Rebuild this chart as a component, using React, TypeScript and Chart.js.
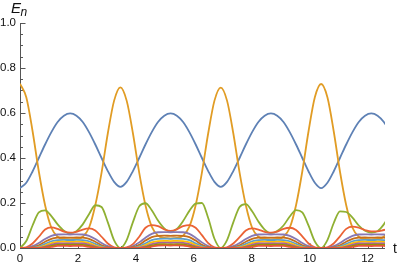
import React, { useEffect, useRef } from 'react';
import { Chart, registerables } from 'chart.js';

Chart.register(...registerables);

// time samples
const tValues = [
  0, 0.217, 0.433, 0.650, 0.866, 1.083, 1.299, 1.516, 1.733, 1.949,
  2.166, 2.382, 2.599, 2.816, 3.032, 3.249, 3.465, 3.682, 3.898, 4.115,
  4.331, 4.548, 4.764, 4.981, 5.198, 5.414, 5.631, 5.847, 6.064, 6.280,
  6.497, 6.713, 6.930, 7.147, 7.363, 7.580, 7.796, 8.013, 8.229, 8.446,
  8.662, 8.879, 9.096, 9.312, 9.529, 9.745, 9.962, 10.178, 10.395, 10.612,
  10.828, 11.045, 11.261, 11.478, 11.694, 11.911, 12.127, 12.344, 12.560, 12.777,
];

const e0 = [
  0.266, 0.29, 0.34, 0.40, 0.46, 0.515, 0.56, 0.588, 0.598, 0.588,
  0.56, 0.515, 0.46, 0.40, 0.342, 0.294, 0.272, 0.294, 0.342, 0.40,
  0.46, 0.515, 0.56, 0.588, 0.598, 0.588, 0.56, 0.515, 0.46, 0.40,
  0.342, 0.294, 0.272, 0.294, 0.342, 0.40, 0.46, 0.515, 0.56, 0.588,
  0.598, 0.588, 0.56, 0.515, 0.46, 0.40, 0.34, 0.29, 0.266, 0.29,
  0.34, 0.40, 0.46, 0.515, 0.56, 0.588, 0.598, 0.588, 0.56, 0.515,
];
const e1 = [
  0.73, 0.67, 0.52, 0.34, 0.19, 0.09, 0.05, 0.04, 0.038, 0.04,
  0.05, 0.09, 0.19, 0.335, 0.51, 0.655, 0.714, 0.655, 0.51, 0.335,
  0.19, 0.095, 0.055, 0.045, 0.043, 0.045, 0.055, 0.095, 0.19, 0.335,
  0.51, 0.655, 0.713, 0.655, 0.51, 0.335, 0.19, 0.09, 0.05, 0.04,
  0.038, 0.04, 0.05, 0.09, 0.19, 0.34, 0.52, 0.67, 0.729, 0.67,
  0.52, 0.34, 0.19, 0.09, 0.05, 0.04, 0.038, 0.04, 0.05, 0.09,
];
const e2 = [
  0, 0.031, 0.10, 0.158, 0.167, 0.142, 0.105, 0.077, 0.065, 0.075,
  0.105, 0.15, 0.19, 0.182, 0.114, 0.034, 0, 0.035, 0.115, 0.185,
  0.199, 0.168, 0.122, 0.087, 0.072, 0.085, 0.12, 0.165, 0.197, 0.2,
  0.133, 0.041, 0, 0.035, 0.114, 0.182, 0.195, 0.163, 0.118, 0.082,
  0.066, 0.075, 0.1, 0.14, 0.168, 0.158, 0.099, 0.029, 0, 0.035,
  0.11, 0.163, 0.16, 0.135, 0.1, 0.077, 0.068, 0.075, 0.105, 0.15,
];
const e3 = [
  0, 0.003, 0.02, 0.05, 0.082, 0.092, 0.085, 0.073, 0.068, 0.072,
  0.082, 0.087, 0.078, 0.05, 0.02, 0.003, 0, 0.003, 0.017, 0.05,
  0.09, 0.102, 0.097, 0.083, 0.076, 0.083, 0.097, 0.102, 0.09, 0.057,
  0.022, 0.003, 0, 0.003, 0.02, 0.048, 0.078, 0.087, 0.082, 0.072,
  0.068, 0.073, 0.085, 0.09, 0.08, 0.052, 0.02, 0.003, 0, 0.003,
  0.02, 0.052, 0.085, 0.095, 0.09, 0.08, 0.074, 0.074, 0.08, 0.085,
];
const e4 = [
  0, 0.001, 0.008, 0.022, 0.04, 0.054, 0.06, 0.061, 0.06, 0.061,
  0.06, 0.054, 0.04, 0.022, 0.008, 0.001, 0, 0.001, 0.009, 0.025,
  0.046, 0.063, 0.07, 0.071, 0.07, 0.071, 0.07, 0.063, 0.046, 0.025,
  0.009, 0.001, 0, 0.001, 0.008, 0.022, 0.04, 0.054, 0.06, 0.061,
  0.06, 0.061, 0.06, 0.054, 0.04, 0.022, 0.008, 0.001, 0, 0.001,
  0.008, 0.022, 0.04, 0.054, 0.06, 0.061, 0.06, 0.061, 0.06, 0.054,
];
const e5 = [
  0, 0, 0.003, 0.012, 0.028, 0.041, 0.046, 0.047, 0.046, 0.047,
  0.046, 0.041, 0.028, 0.012, 0.003, 0, 0, 0, 0.004, 0.014,
  0.033, 0.048, 0.054, 0.055, 0.054, 0.055, 0.054, 0.048, 0.033, 0.014,
  0.004, 0, 0, 0, 0.003, 0.012, 0.028, 0.041, 0.046, 0.047,
  0.046, 0.047, 0.046, 0.041, 0.028, 0.012, 0.003, 0, 0, 0,
  0.003, 0.012, 0.028, 0.041, 0.046, 0.047, 0.046, 0.047, 0.046, 0.041,
];
const e6 = [
  0, 0, 0.001, 0.006, 0.018, 0.03, 0.035, 0.036, 0.035, 0.036,
  0.035, 0.03, 0.018, 0.006, 0.001, 0, 0, 0, 0.001, 0.007,
  0.021, 0.035, 0.041, 0.042, 0.041, 0.042, 0.041, 0.035, 0.021, 0.007,
  0.001, 0, 0, 0, 0.001, 0.006, 0.018, 0.03, 0.035, 0.036,
  0.035, 0.036, 0.035, 0.03, 0.018, 0.006, 0.001, 0, 0, 0,
  0.001, 0.006, 0.018, 0.03, 0.035, 0.036, 0.035, 0.036, 0.035, 0.03,
];
const e7 = [
  0, 0, 0, 0.003, 0.011, 0.022, 0.027, 0.028, 0.027, 0.028,
  0.027, 0.022, 0.011, 0.003, 0, 0, 0, 0, 0, 0.003,
  0.013, 0.025, 0.031, 0.032, 0.031, 0.032, 0.031, 0.025, 0.013, 0.003,
  0, 0, 0, 0, 0, 0.003, 0.011, 0.022, 0.027, 0.028,
  0.027, 0.028, 0.027, 0.022, 0.011, 0.003, 0, 0, 0, 0,
  0, 0.003, 0.011, 0.022, 0.027, 0.028, 0.027, 0.028, 0.027, 0.022,
];
const e8 = [
  0, 0, 0, 0.001, 0.006, 0.015, 0.02, 0.021, 0.02, 0.021,
  0.02, 0.015, 0.006, 0.001, 0, 0, 0, 0, 0, 0.001,
  0.007, 0.017, 0.023, 0.024, 0.023, 0.024, 0.023, 0.017, 0.007, 0.001,
  0, 0, 0, 0, 0, 0.001, 0.006, 0.015, 0.02, 0.021,
  0.02, 0.021, 0.02, 0.015, 0.006, 0.001, 0, 0, 0, 0,
  0, 0.001, 0.006, 0.015, 0.02, 0.021, 0.02, 0.021, 0.02, 0.015,
];
const e9 = [
  0, 0, 0, 0, 0.003, 0.009, 0.014, 0.015, 0.014, 0.015,
  0.014, 0.009, 0.003, 0, 0, 0, 0, 0, 0, 0,
  0.003, 0.011, 0.016, 0.017, 0.016, 0.017, 0.016, 0.011, 0.003, 0,
  0, 0, 0, 0, 0, 0, 0.003, 0.009, 0.014, 0.015,
  0.014, 0.015, 0.014, 0.009, 0.003, 0, 0, 0, 0, 0,
  0, 0, 0.003, 0.009, 0.014, 0.015, 0.014, 0.015, 0.014, 0.009,
];
const e10 = [
  0, 0, 0, 0, 0.001, 0.005, 0.009, 0.01, 0.009, 0.01,
  0.009, 0.005, 0.001, 0, 0, 0, 0, 0, 0, 0,
  0.001, 0.006, 0.011, 0.012, 0.011, 0.012, 0.011, 0.006, 0.001, 0,
  0, 0, 0, 0, 0, 0, 0.001, 0.005, 0.009, 0.01,
  0.009, 0.01, 0.009, 0.005, 0.001, 0, 0, 0, 0, 0,
  0, 0, 0.001, 0.005, 0.009, 0.01, 0.009, 0.01, 0.009, 0.005,
];

const seriesNames = ['E0', 'E1', 'E2', 'E3', 'E4', 'E5', 'E6', 'E7', 'E8', 'E9', 'E10'];
const seriesColors = [
  '#5E81B5', '#E19C24', '#8FB032', '#EB6235', '#8778B3', '#C56E1A',
  '#5D9EC7', '#FFBF00', '#A5609D', '#929600', '#E95536',
];

const xTicks = [0, 2, 4, 6, 8, 10, 12];
const xTickLabels = ['0', '2', '4', '6', '8', '10', '12'];
const yTicks = [0, 0.2, 0.4, 0.6, 0.8, 1.0];
const yTickLabels = ['0.0', '0.2', '0.4', '0.6', '0.8', '1.0'];
const xMinorStep = 0.5;
const yMinorStep = 0.05;
const X_MAX = 12.6;

const axisColor = '#555555';
const textColor = '#111111';
const fontFamily = '"Liberation Sans", Arial, sans-serif';

const axisDecor = {
  id: 'axisDecor',
  beforeDatasetsDraw(chart: any) {
    const { ctx, chartArea, scales } = chart;
    const xs = scales.x;
    const ys = scales.y;
    const x0 = Math.round(xs.getPixelForValue(0)) + 0.5;
    const y0 = Math.round(ys.getPixelForValue(0)) + 0.5;
    ctx.save();
    ctx.strokeStyle = axisColor;
    ctx.lineWidth = 1;
    ctx.beginPath();
    ctx.moveTo(chartArea.left, y0);
    ctx.lineTo(chartArea.right, y0);
    ctx.moveTo(x0, ys.getPixelForValue(1));
    ctx.lineTo(x0, y0);
    // x ticks (inward, upward)
    for (let v = 0; v <= X_MAX + 1e-9; v += xMinorStep) {
      const major = xTicks.some((t) => Math.abs(t - v) < 1e-6);
      const px = Math.round(xs.getPixelForValue(v)) + 0.5;
      ctx.moveTo(px, y0);
      ctx.lineTo(px, y0 - (major ? 5 : 2.5));
    }
    // y ticks (inward, rightward)
    for (let v = 0; v <= 1 + 1e-9; v += yMinorStep) {
      const major = yTicks.some((t) => Math.abs(t - v) < 1e-6);
      const py = Math.round(ys.getPixelForValue(v)) + 0.5;
      ctx.moveTo(x0, py);
      ctx.lineTo(x0 + (major ? 5 : 2.5), py);
    }
    ctx.stroke();
    ctx.restore();
  },
  afterDraw(chart: any) {
    const { ctx } = chart;
    ctx.save();
    ctx.fillStyle = textColor;
    ctx.textBaseline = 'alphabetic';
    ctx.textAlign = 'left';
    ctx.font = `italic 15px ${fontFamily}`;
    ctx.fillText('E', 11, 13);
    ctx.font = `italic 12px ${fontFamily}`;
    ctx.fillText('n', 20.5, 15.5);
    ctx.font = `14px ${fontFamily}`;
    ctx.fillText('t', 393, 253);
    ctx.restore();
  },
};

export default function App() {
  const ref = useRef<HTMLCanvasElement>(null);
  useEffect(() => {
    const series = [e0, e1, e2, e3, e4, e5, e6, e7, e8, e9, e10];
    const chart = new Chart(ref.current as HTMLCanvasElement, {
      type: 'line',
      data: {
        datasets: series.map((s, i) => ({
          label: seriesNames[i],
          data: tValues.map((t, k) => ({ x: t, y: s[k] })),
          borderColor: seriesColors[i],
          backgroundColor: seriesColors[i],
          borderWidth: 1.8,
          pointRadius: 0,
          fill: false,
          cubicInterpolationMode: 'monotone',
          order: 100 - i,
        })),
      },
      options: {
        responsive: false,
        animation: false,
        layout: { padding: { top: 23, right: 15, bottom: 0, left: 0 } },
        plugins: { legend: { display: false }, tooltip: { enabled: false } },
        scales: {
          x: {
            type: 'linear',
            min: 0,
            max: X_MAX,
            grid: { display: false, drawTicks: false },
            border: { display: false },
            ticks: {
              autoSkip: false,
              maxRotation: 0,
              padding: 4,
              color: textColor,
              font: { family: fontFamily, size: 11.5 },
              callback: (_v: any, i: number) => xTickLabels[i],
            },
            afterBuildTicks: (s: any) => {
              s.ticks = xTicks.map((v) => ({ value: v }));
            },
            afterFit: (s: any) => {
              s.height = 20;
            },
          },
          y: {
            type: 'linear',
            min: 0,
            max: 1,
            grid: { display: false, drawTicks: false },
            border: { display: false },
            ticks: {
              autoSkip: false,
              padding: 4,
              color: textColor,
              font: { family: fontFamily, size: 11.5 },
              callback: (_v: any, i: number) => yTickLabels[i],
            },
            afterBuildTicks: (s: any) => {
              s.ticks = yTicks.map((v) => ({ value: v }));
            },
            afterFit: (s: any) => {
              s.width = 20;
            },
          },
        },
      },
      plugins: [axisDecor],
    } as any);
    return () => chart.destroy();
  }, []);
  return (
    <div style={{ position: 'fixed', left: 0, top: 0, width: 400, height: 268, background: '#ffffff' }}>
      <canvas ref={ref} width={400} height={268} style={{ display: 'block' }} />
    </div>
  );
}
